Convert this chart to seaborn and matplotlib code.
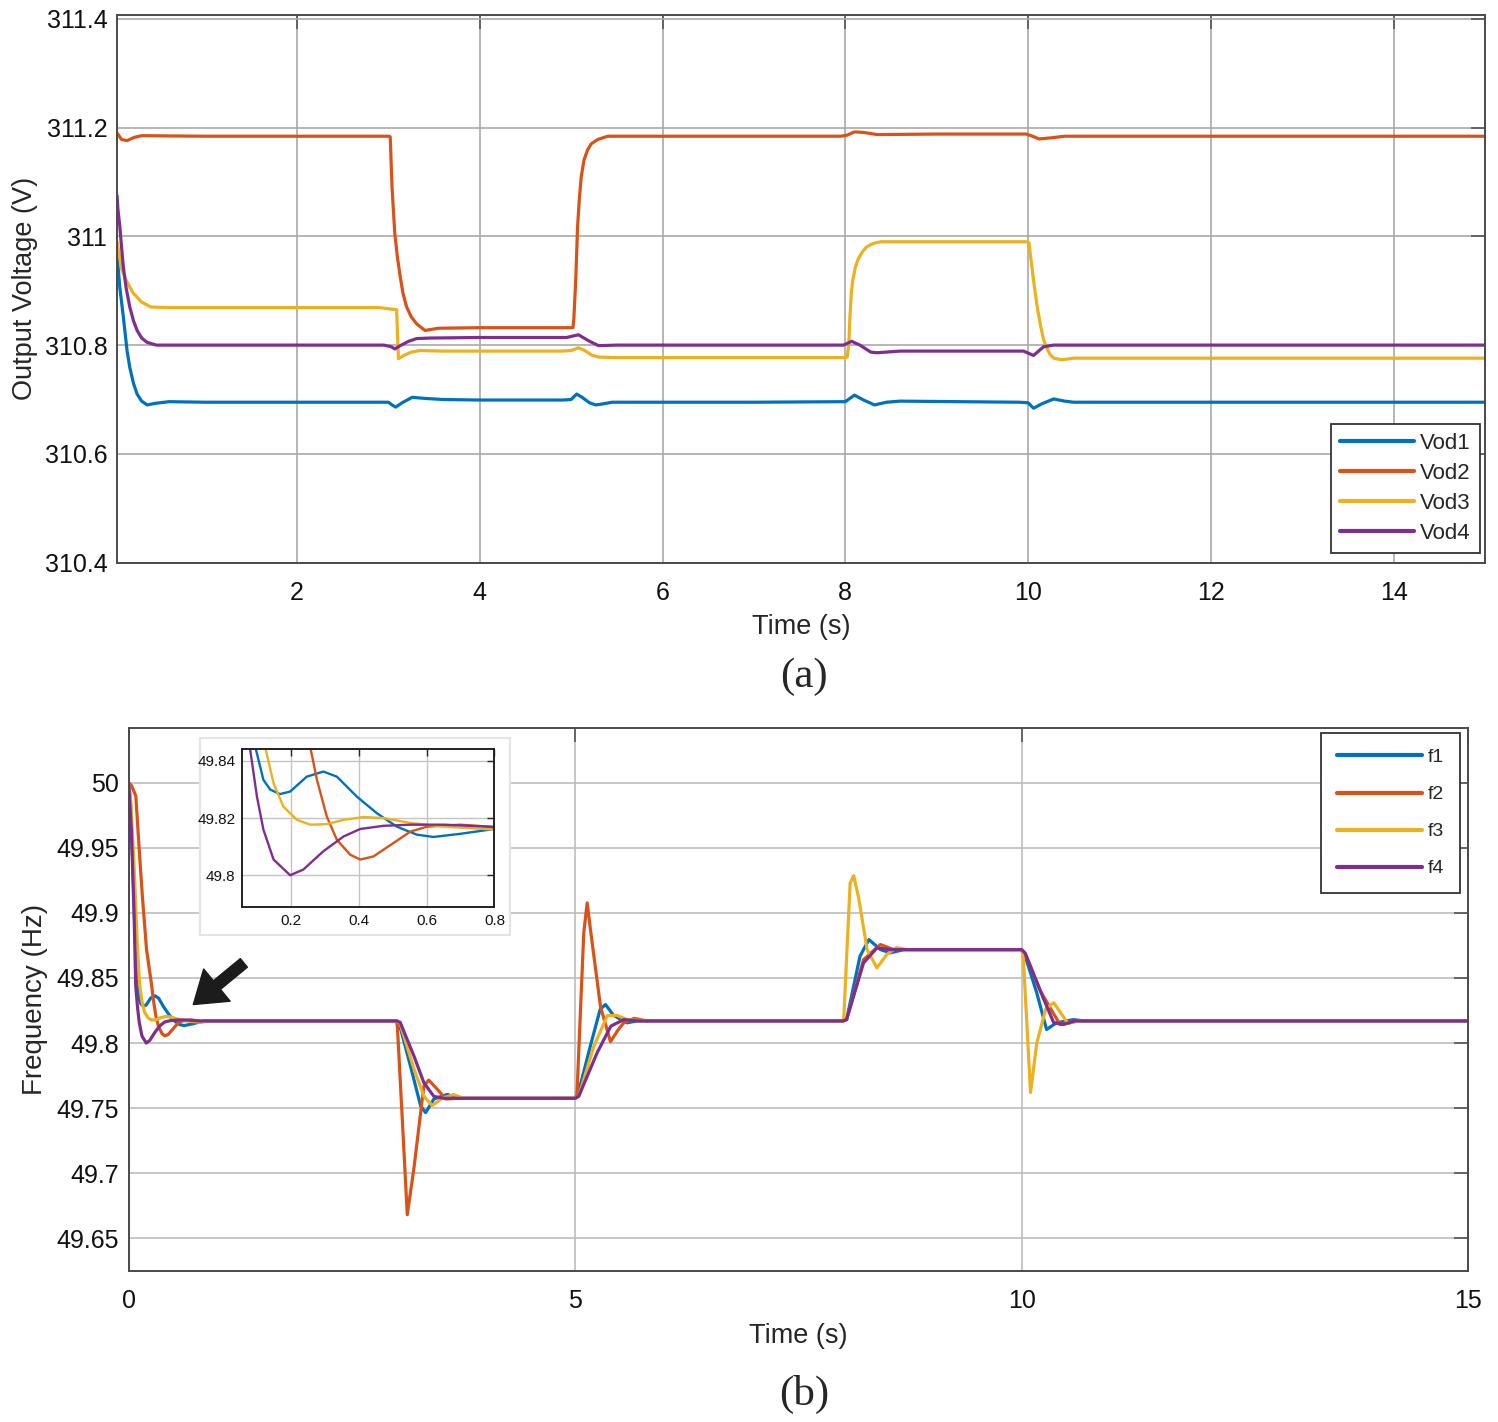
import matplotlib.pyplot as plt
from matplotlib.patches import Rectangle
from matplotlib.ticker import FuncFormatter
import seaborn as sns

# ---- (a) output voltages ----
vod1_t = [0.03, 0.06, 0.10, 0.14, 0.17, 0.21, 0.25, 0.30, 0.36, 0.45, 0.6, 1.0, 2.0, 3.0, 3.04, 3.08,
          3.15, 3.26, 3.4, 3.6, 4.0, 4.9, 5.0, 5.06, 5.12, 5.2, 5.27, 5.35, 5.45, 5.6, 7.0, 8.0, 8.1, 8.2,
          8.32, 8.45, 8.6, 9.9, 10.0, 10.06, 10.15, 10.28, 10.4, 10.5, 15.0]
vod1_v = [310.97, 310.907, 310.851, 310.79, 310.759, 310.73, 310.71, 310.697, 310.69, 310.693, 310.696,
          310.695, 310.695, 310.695, 310.69, 310.686, 310.694, 310.704, 310.702, 310.7, 310.699, 310.699,
          310.7, 310.71, 310.704, 310.694, 310.69, 310.692, 310.695, 310.695, 310.695, 310.696, 310.708,
          310.699, 310.69, 310.695, 310.697, 310.695, 310.694, 310.684, 310.692, 310.701, 310.697,
          310.695, 310.695]

vod2_t = [0.03, 0.08, 0.14, 0.22, 0.3, 1.0, 3.0, 3.02, 3.04, 3.07, 3.10, 3.13, 3.16, 3.20, 3.25, 3.31,
          3.40, 3.55, 4.0, 5.02, 5.03, 5.05, 5.07, 5.09, 5.11, 5.14, 5.18, 5.22, 5.29, 5.4, 7.95, 8.02,
          8.1, 8.2, 8.35, 9.0, 9.98, 10.05, 10.12, 10.25, 10.4, 15.0]
vod2_v = [311.19, 311.178, 311.176, 311.182, 311.185, 311.184, 311.184, 311.183, 311.09, 311.005,
          310.96, 310.925, 310.895, 310.87, 310.852, 310.839, 310.827, 310.831, 310.832, 310.832,
          310.85, 310.919, 311.017, 311.07, 311.109, 311.14, 311.159, 311.17, 311.178, 311.184, 311.184,
          311.186, 311.192, 311.191, 311.187, 311.188, 311.188, 311.184, 311.179, 311.181, 311.184,
          311.184]

vod3_t = [0.03, 0.08, 0.13, 0.21, 0.30, 0.40, 0.6, 2.9, 3.04, 3.09, 3.11, 3.18, 3.25, 3.34, 3.6, 4.9,
          5.0, 5.08, 5.15, 5.22, 5.30, 5.5, 7.99, 8.02, 8.03, 8.04, 8.05, 8.065, 8.08, 8.11, 8.14, 8.185,
          8.23, 8.28, 8.33, 8.39, 9.0, 9.99, 10.01, 10.03, 10.06, 10.1, 10.14, 10.17, 10.21, 10.24,
          10.28, 10.37, 10.5, 15.0]
vod3_v = [310.99, 310.94, 310.919, 310.895, 310.879, 310.87, 310.869, 310.869, 310.866, 310.865,
          310.775, 310.782, 310.787, 310.79, 310.789, 310.789, 310.79, 310.795, 310.79, 310.782, 310.778,
          310.777, 310.777, 310.778, 310.79, 310.808, 310.85, 310.894, 310.918, 310.943, 310.958,
          310.971, 310.98, 310.985, 310.988, 310.99, 310.99, 310.99, 310.988, 310.96, 310.919, 310.87,
          310.833, 310.81, 310.793, 310.783, 310.776, 310.773, 310.776, 310.776]

vod4_t = [0.03, 0.04, 0.06, 0.08, 0.10, 0.13, 0.17, 0.21, 0.25, 0.30, 0.36, 0.46, 1.0, 2.95, 3.03, 3.07,
          3.13, 3.22, 3.31, 3.46, 4.0, 4.95, 5.08, 5.19, 5.30, 5.5, 7.98, 8.07, 8.16, 8.28, 8.35, 8.6,
          9.95, 10.06, 10.17, 10.28, 15.0]
vod4_v = [311.075, 311.05, 311.02, 310.98, 310.943, 310.905, 310.87, 310.845, 310.827, 310.813,
          310.805, 310.8, 310.8, 310.8, 310.797, 310.793, 310.799, 310.807, 310.812, 310.813, 310.814,
          310.814, 310.819, 310.808, 310.799, 310.8, 310.8, 310.807, 310.8, 310.787, 310.786, 310.789,
          310.789, 310.781, 310.797, 310.8, 310.8]

# ---- (b) frequencies ----
f1_t = [0.0, 0.02, 0.045, 0.07, 0.094, 0.118, 0.138, 0.167, 0.197, 0.246, 0.295, 0.335, 0.394, 0.453,
        0.512, 0.571, 0.62, 0.699, 0.80, 0.9, 3.0, 3.03, 3.157, 3.27, 3.325, 3.418, 3.57, 3.68, 5.0, 5.03,
        5.17, 5.28, 5.34, 5.43, 5.58, 5.69, 8.0, 8.04, 8.19, 8.29, 8.42, 8.53, 8.68, 10.0, 10.03, 10.17,
        10.28, 10.39, 10.58, 10.7, 15.0]
f1_v = [50.0, 49.985, 49.94, 49.885, 49.845, 49.8334, 49.83, 49.8284, 49.8293, 49.8345, 49.8363,
        49.8345, 49.8275, 49.8217, 49.817, 49.8142, 49.8134, 49.8145, 49.8162, 49.817, 49.817, 49.815,
        49.782, 49.7516, 49.7465, 49.757, 49.7605, 49.7575, 49.7575, 49.76, 49.7976, 49.8258, 49.8296,
        49.8213, 49.8155, 49.817, 49.817, 49.818, 49.8667, 49.8795, 49.8718, 49.8693, 49.8718, 49.8718,
        49.869, 49.8386, 49.8104, 49.8155, 49.818, 49.817, 49.817]

f2_t = [0.0, 0.03, 0.08, 0.116, 0.153, 0.20, 0.256, 0.276, 0.305, 0.335, 0.374, 0.404, 0.443, 0.502,
        0.552, 0.601, 0.699, 0.80, 0.9, 3.0, 3.01, 3.064, 3.12, 3.195, 3.306, 3.36, 3.45, 3.55, 3.7, 5.0,
        5.02, 5.097, 5.135, 5.172, 5.284, 5.396, 5.48, 5.545, 5.66, 5.8, 8.0, 8.04, 8.23, 8.418, 8.57,
        10.0, 10.04, 10.21, 10.43, 10.6, 15.0]
f2_v = [50.0, 49.998, 49.99, 49.951, 49.913, 49.872, 49.845, 49.8334, 49.8206, 49.8124, 49.8072,
        49.8055, 49.8066, 49.8113, 49.8153, 49.817, 49.8177, 49.8169, 49.817, 49.817, 49.812, 49.742,
        49.668, 49.704, 49.767, 49.7715, 49.765, 49.757, 49.7575, 49.7575, 49.76, 49.885, 49.9077,
        49.887, 49.828, 49.801, 49.81, 49.8156, 49.819, 49.817, 49.817, 49.818, 49.8641, 49.8757,
        49.8718, 49.8718, 49.869, 49.84, 49.8142, 49.817, 49.817]

f3_t = [0.0, 0.02, 0.06, 0.097, 0.123, 0.148, 0.177, 0.217, 0.256, 0.305, 0.355, 0.414, 0.473, 0.552,
        0.65, 0.80, 0.9, 3.0, 3.04, 3.195, 3.306, 3.40, 3.51, 3.64, 3.75, 5.0, 5.04, 5.21, 5.36, 5.47,
        5.58, 5.77, 8.007, 8.08, 8.12, 8.176, 8.27, 8.38, 8.49, 8.6, 8.72, 10.0, 10.02, 10.1, 10.17,
        10.27, 10.36, 10.45, 10.52, 10.65, 15.0]
f3_v = [50.0, 49.99, 49.938, 49.875, 49.845, 49.8322, 49.824, 49.8194, 49.8177, 49.8179, 49.8194,
        49.8204, 49.82, 49.8183, 49.817, 49.816, 49.817, 49.817, 49.815, 49.78, 49.759, 49.752, 49.7575,
        49.7604, 49.7575, 49.7575, 49.759, 49.7976, 49.821, 49.8213, 49.8181, 49.817, 49.817, 49.923,
        49.9286, 49.9112, 49.8718, 49.8578, 49.868, 49.8734, 49.8718, 49.8718, 49.865, 49.762, 49.8,
        49.826, 49.831, 49.822, 49.815, 49.817, 49.817]

f4_t = [0.0, 0.03, 0.06, 0.079, 0.099, 0.118, 0.148, 0.197, 0.236, 0.295, 0.355, 0.404, 0.473, 0.552,
        0.65, 0.80, 0.9, 3.0, 3.04, 3.195, 3.306, 3.418, 3.53, 5.0, 5.04, 5.247, 5.40, 5.545, 5.7, 8.0,
        8.04, 8.23, 8.38, 8.53, 10.0, 10.04, 10.25, 10.36, 10.47, 10.6, 15.0]
f4_v = [50.0, 49.964, 49.9, 49.844, 49.8275, 49.816, 49.8055, 49.8, 49.802, 49.8084, 49.8136, 49.8162,
        49.8173, 49.8177, 49.8177, 49.8169, 49.817, 49.817, 49.816, 49.79, 49.7695, 49.759, 49.7575,
        49.7575, 49.759, 49.7926, 49.813, 49.818, 49.817, 49.817, 49.818, 49.8616, 49.8731, 49.8718,
        49.8718, 49.869, 49.8334, 49.8156, 49.8143, 49.817, 49.817]

colors = ['#0072BD', '#D95319', '#EDB120', '#7E2F8E']
vod_names = ['Vod1', 'Vod2', 'Vod3', 'Vod4']
f_names = ['f1', 'f2', 'f3', 'f4']

sns.set_theme(style='whitegrid')
plt.rcParams['font.family'] = ['Liberation Sans', 'DejaVu Sans']

fig = plt.figure(figsize=(14.98, 14.22), dpi=100)
ax_a = fig.add_axes([0.0781, 0.6043, 0.9132, 0.3852])
ax_b = fig.add_axes([0.0859, 0.1064, 0.8941, 0.3815])


def style_axes(ax, grid_color):
    ax.set_facecolor('white')
    ax.grid(True, color=grid_color, linewidth=1.2)
    for sp in ax.spines.values():
        sp.set_color('#4a4a4a')
        sp.set_linewidth(1.4)
    ax.tick_params(direction='in', length=10, width=1.2, color='#555555',
                   top=True, right=True, labelsize=18, labelcolor='#111111')
    ax.tick_params(axis='x', pad=13)
    ax.tick_params(axis='y', pad=7)
    ax.xaxis.set_major_formatter(FuncFormatter(lambda v, p: f'{v:g}'))
    ax.yaxis.set_major_formatter(FuncFormatter(lambda v, p: f'{v:g}'))


# (a)
for t, v, c, n in zip([vod1_t, vod2_t, vod3_t, vod4_t], [vod1_v, vod2_v, vod3_v, vod4_v], colors, vod_names):
    sns.lineplot(x=t, y=v, ax=ax_a, color=c, linewidth=2.3, label=n, estimator=None)
style_axes(ax_a, '#a9a9a9')
ax_a.set_xlim(0.03, 15.0)
ax_a.set_ylim(310.4, 311.407)
ax_a.set_xticks([2, 4, 6, 8, 10, 12, 14])
ax_a.set_yticks([310.4, 310.6, 310.8, 311.0, 311.2, 311.4])
ax_a.set_xlabel('Time (s)', fontsize=19.5)
ax_a.set_ylabel('Output Voltage (V)', fontsize=19.5)
ax_a.xaxis.set_label_coords(0.5, -0.093)
ax_a.yaxis.set_label_coords(-0.058, 0.5)
leg = ax_a.legend(loc='lower right', bbox_to_anchor=(0.9963, 0.018), borderaxespad=0, fontsize=16,
                  handlelength=3.3, handletextpad=0.3, labelspacing=0.4, borderpad=0.4,
                  fancybox=False, framealpha=1, edgecolor='#333333')
leg.get_frame().set_linewidth(1.3)
for ln in leg.get_lines():
    ln.set_linewidth(3)

# (b)
f_t = [f1_t, f2_t, f3_t, f4_t]
f_v = [f1_v, f2_v, f3_v, f4_v]
for t, v, c, n in zip(f_t, f_v, colors, f_names):
    sns.lineplot(x=t, y=v, ax=ax_b, color=c, linewidth=2.3, label=n, estimator=None)
style_axes(ax_b, '#bdbdbd')
ax_b.set_xlim(0, 15)
ax_b.set_ylim(49.625, 50.042)
ax_b.set_xticks([0, 5, 10, 15])
ax_b.set_yticks([49.65, 49.7, 49.75, 49.8, 49.85, 49.9, 49.95, 50.0])
ax_b.set_xlabel('Time (s)', fontsize=19.5)
ax_b.set_ylabel('Frequency (Hz)', fontsize=20)
ax_b.xaxis.set_label_coords(0.5, -0.096)
ax_b.yaxis.set_label_coords(-0.060, 0.5)
leg = ax_b.legend(loc='upper right', bbox_to_anchor=(0.994, 0.991), borderaxespad=0, fontsize=14,
                  handlelength=4.4, handletextpad=0.3, labelspacing=1.0, borderpad=0.8,
                  fancybox=False, framealpha=1, edgecolor='#333333')
leg.get_frame().set_linewidth(1.3)
for ln in leg.get_lines():
    ln.set_linewidth(3)

ax_b.annotate('', xy=(0.724, 49.8296), xytext=(1.29, 49.8616),
              arrowprops=dict(facecolor='#1c1c1c', edgecolor='#1c1c1c', width=8,
                              headwidth=30, headlength=22, shrink=0))

# white backing card for the zoomed inset
fig.add_artist(Rectangle((0.1335, 0.3425), 0.2069, 0.1385, transform=fig.transFigure,
                         facecolor='white', edgecolor='#e4e4e4', linewidth=1.5, zorder=2))

ax_in = fig.add_axes([0.1618, 0.3624, 0.1683, 0.1107], zorder=3)
for t, v, c in zip(f_t, f_v, colors):
    sns.lineplot(x=t, y=v, ax=ax_in, color=c, linewidth=1.7, estimator=None)
ax_in.set_facecolor('white')
ax_in.grid(True, color='#c4c4c4', linewidth=1.0)
for sp in ax_in.spines.values():
    sp.set_color('#222222')
    sp.set_linewidth(1.4)
ax_in.set_xlim(0.056, 0.8)
ax_in.set_ylim(49.789, 49.8441)
ax_in.set_xticks([0.2, 0.4, 0.6, 0.8])
ax_in.set_yticks([49.8, 49.82, 49.84])
ax_in.xaxis.set_major_formatter(FuncFormatter(lambda v, p: f'{v:g}'))
ax_in.yaxis.set_major_formatter(FuncFormatter(lambda v, p: f'{v:g}'))
ax_in.tick_params(direction='in', length=5, width=1, top=True, right=True, labelsize=11,
                  labelcolor='#111111', pad=5)
ax_in.set_xlabel('')
ax_in.set_ylabel('')

fig.text(0.537, 0.524, '(a)', ha='center', va='center', fontsize=31,
         family=['Liberation Serif', 'DejaVu Serif'])
fig.text(0.537, 0.019, '(b)', ha='center', va='center', fontsize=31,
         family=['Liberation Serif', 'DejaVu Serif'])

fig.savefig('out.png', dpi=100, facecolor='white')
